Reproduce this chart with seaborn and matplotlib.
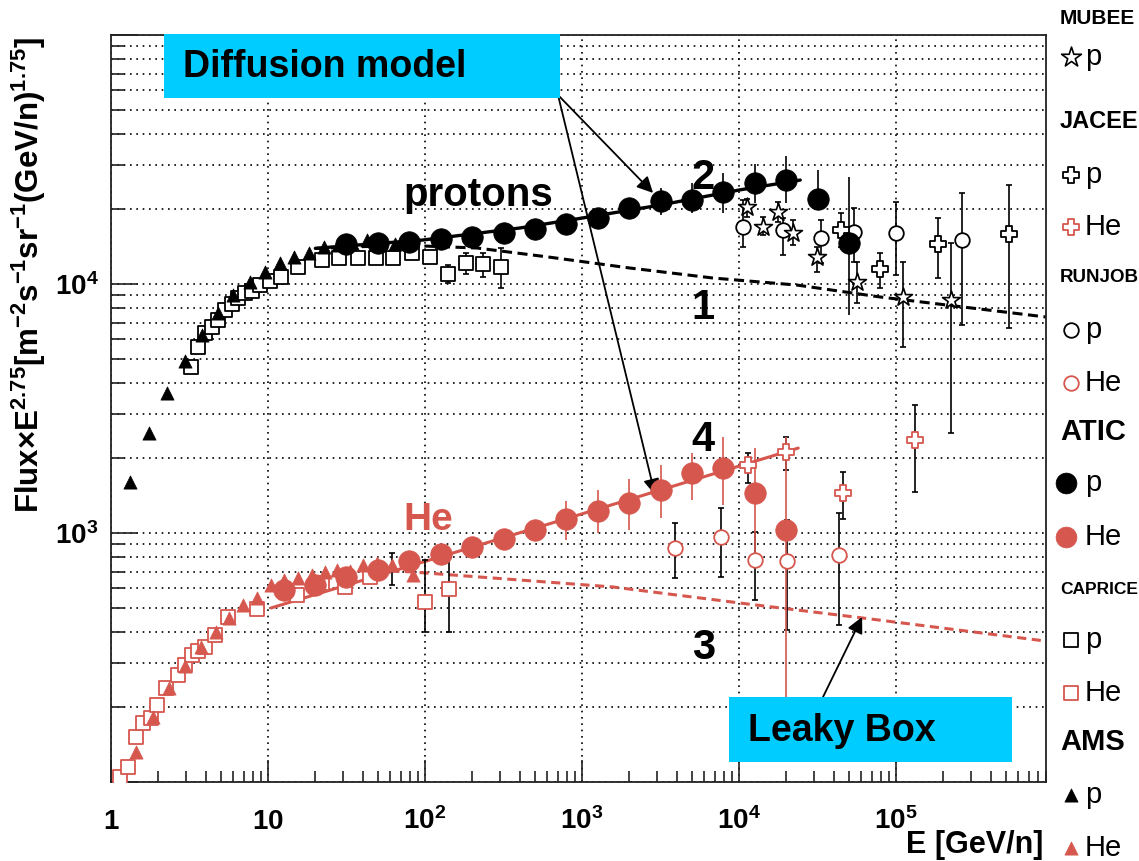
import matplotlib
matplotlib.use("Agg")
import numpy as np
import matplotlib.pyplot as plt
import seaborn as sns
from matplotlib.patches import Rectangle
from matplotlib.ticker import FixedLocator, FixedFormatter, NullFormatter, LogLocator

# ---------------- data (E in GeV/n, Flux x E^2.75) ----------------
ams_p_E = [1.32, 1.75, 2.27, 2.96, 3.80, 4.80, 5.98, 7.68, 9.57, 11.9, 14.6, 18.2, 22.7, 27.9, 34.3, 42.7, 52.5, 64.4]
ams_p_F = [1600, 2520, 3650, 4910, 6240, 7650, 9030, 10190, 11170, 12140, 12840, 13320, 14080, 14350, 14610, 15020, 14750, 14470]

ams_he_E = [1.44, 1.85, 2.34, 2.96, 3.74, 4.66, 5.65, 6.93, 8.51, 10.45, 12.6, 15.5, 19.1, 23.1, 27.5, 33.3, 40.3, 49.5, 61.6, 83.9]
ams_he_F = [132, 182, 239, 292, 348, 400, 456, 514, 548, 618, 648, 660, 678, 697, 710, 704, 744, 758, 744, 678]
ams_he_lo = [132, 182, 239, 292, 348, 400, 456, 514, 548, 618, 648, 660, 678, 697, 710, 704, 744, 758, 618, 678]
ams_he_hi = [132, 182, 239, 292, 348, 400, 456, 514, 548, 618, 648, 660, 678, 697, 710, 704, 744, 758, 831, 678]

caprice_p_E = [3.23, 3.58, 3.97, 4.40, 4.80, 5.32, 5.90, 6.44, 7.14, 7.91, 8.90, 10.3, 12.1, 15.5, 22.1, 28.3, 37.4, 48.7, 62.5, 82.6, 108, 140, 182, 234, 305]
caprice_p_F = [4640, 5590, 6360, 6710, 7160, 7860, 8310, 8790, 9200, 9370, 9910, 10280, 10670, 11700, 12490, 12710, 12710, 12710, 12710, 13320, 12830, 10970, 12140, 12030, 11700]
caprice_p_lo = [4640, 5590, 6360, 6710, 7160, 7860, 8310, 8790, 9200, 9370, 9910, 10280, 10670, 11700, 12490, 12710, 12710, 12710, 12710, 13320, 12830, 10090, 10970, 10670, 9640]
caprice_p_hi = [4640, 5590, 6360, 6710, 7160, 7860, 8310, 8790, 9200, 9370, 9910, 10280, 10670, 11700, 12490, 12710, 12710, 12710, 12710, 13320, 12830, 11920, 13320, 13320, 13950]

caprice_he_E = [1.14, 1.28, 1.44, 1.60, 1.80, 1.96, 2.24, 2.67, 2.96, 3.28, 3.58, 3.97, 4.59, 5.56, 8.51, 15.3, 22.1, 30.9, 44.7, 100, 142]
caprice_he_F = [105, 115, 152, 173, 181, 204, 239, 269, 295, 324, 336, 348, 389, 460, 495, 564, 630, 607, 666, 528, 596]
caprice_he_lo = [105, 115, 152, 173, 181, 204, 239, 269, 295, 324, 336, 348, 389, 460, 495, 564, 630, 607, 666, 400, 400]
caprice_he_hi = [105, 115, 152, 173, 181, 204, 239, 269, 295, 324, 336, 348, 389, 460, 495, 564, 630, 607, 666, 779, 800]

atic_p_E = [31.6, 50.1, 79.4, 126, 200, 316, 501, 794, 1260, 2000, 3160, 5010, 7940, 12600, 20000, 31600, 50100]
atic_p_F = [14470, 14610, 14750, 15230, 15450, 16030, 16630, 17420, 18410, 20200, 21550, 21750, 23400, 25450, 26150, 21950, 14610]
atic_p_lo = [14470, 14610, 14750, 15230, 15450, 16030, 16630, 17420, 18410, 20200, 18930, 19280, 19280, 21130, 21130, 19820, 7510]
atic_p_hi = [14470, 14610, 14750, 15230, 15450, 16030, 16630, 17420, 18410, 20200, 24300, 25440, 27910, 30340, 32680, 28710, 26900]

atic_he_E = [12.6, 20.0, 31.6, 50.1, 79.4, 126, 200, 316, 501, 794, 1260, 2000, 3160, 5010, 7940, 12600, 20000]
atic_he_F = [590, 618, 666, 710, 772, 824, 879, 946, 1028, 1138, 1226, 1320, 1488, 1742, 1824, 1447, 1028]
atic_he_lo = [590, 618, 666, 710, 772, 824, 879, 946, 1028, 937, 1000, 1028, 1149, 1357, 1296, 779, 180]
atic_he_hi = [590, 618, 666, 710, 772, 824, 879, 946, 1028, 1345, 1488, 1648, 1876, 2096, 2429, 2193, 2429]

runjob_p_E = [10600, 19070, 33270, 53950, 100000, 263000]
runjob_p_F = [16940, 16480, 15300, 16170, 16030, 15020]
runjob_p_lo = [14080, 13080, 12140, 12270, 10870, 6840]
runjob_p_hi = [21740, 18400, 18070, 20190, 21350, 23200]

runjob_he_E = [3910, 7680, 12640, 20210, 43330]
runjob_he_F = [871, 964, 779, 772, 816]
runjob_he_lo = [660, 666, 538, 408, 427]
runjob_he_hi = [1097, 1260, 1009, 1128, 1203]

mubee_p_E = [11250, 14220, 17720, 22080, 31390, 56430, 110800, 224000]
mubee_p_F = [20380, 16940, 19460, 16030, 12840, 10190, 8870, 8630]
mubee_p_lo = [18580, 15740, 17740, 14340, 11170, 8390, 5590, 2520]
mubee_p_hi = [21950, 18580, 21350, 18070, 14080, 12260, 12260, 14610]

jacee_p_E = [44640, 79070, 185200, 524500]
jacee_p_F = [16480, 11490, 14470, 15880]
jacee_p_lo = [14080, 9640, 10570, 6660]
jacee_p_hi = [19280, 13320, 18420, 24980]

jacee_he_E = [11400, 19910, 45930, 132100]
jacee_he_F = [1876, 2115, 1447, 2363]
jacee_he_lo = [1588, 1790, 1138, 1461]
jacee_he_hi = [2096, 2429, 1758, 3266]

# model curves
leaky_p_E = [20, 50, 100, 214, 630, 2000, 6800, 23400, 79000, 900000]
leaky_p_F = [13900, 14200, 14200, 13950, 12800, 11600, 10570, 9900, 8870, 7370]
diff_p_E = [20, 25.6, 97, 403, 1000, 3160, 10000, 24500]
diff_p_F = [13900, 14080, 15020, 16790, 18400, 20760, 23850, 26150]
leaky_he_E = [60, 84, 1574, 11250, 60700, 900000]
leaky_he_F = [705, 697, 607, 519, 456, 368]
diff_he_E = [10.45, 500, 23800]
diff_he_F = [500, 1045, 2193]

x_ticks = [1, 10, 100, 1e3, 1e4, 1e5]
x_ticklabels = ['$1$', '$10$', '$10^{2}$', '$10^{3}$', '$10^{4}$', '$10^{5}$']
y_ticks = [1e2, 1e3, 1e4, 1e5]
y_ticklabels = ['', '$10^{3}$', '$10^{4}$', '']

RED = '#d6574e'
BLK = 'black'
CYAN = '#00ccff'

# ---------------- style ----------------
sns.set_theme(style='white')
plt.rcParams['font.family'] = ['Liberation Sans', 'DejaVu Sans']
plt.rcParams['mathtext.fontset'] = 'custom'
plt.rcParams['mathtext.rm'] = 'Liberation Sans:bold'
plt.rcParams['mathtext.it'] = 'Liberation Sans:bold'
plt.rcParams['mathtext.bf'] = 'Liberation Sans:bold'
plt.rcParams['mathtext.sf'] = 'Liberation Sans:bold'
plt.rcParams['axes.edgecolor'] = '#222222'
plt.rcParams['axes.linewidth'] = 1.3

W, H = 1139, 861
fig = plt.figure(figsize=(W / 100, H / 100), dpi=100)
ax = fig.add_axes([111 / W, 1 - 782 / H, 935 / W, 747 / H])
ax.set_xscale('log')
ax.set_yscale('log')
ax.set_xlim(1, 9e5)
ax.set_ylim(100, 1e5)

grid_ls = (0, (1, 2.8))
ax.yaxis.grid(True, which='both', linestyle=grid_ls, color='black', linewidth=1.2)
ax.xaxis.grid(True, which='major', linestyle=grid_ls, color='black', linewidth=1.2)
ax.set_axisbelow(True)

# ---------------- models ----------------
def model(E, F, color, lw, ls):
    sns.lineplot(x=E, y=F, color=color, linewidth=lw, linestyle=ls, ax=ax,
                 sort=False, estimator=None, legend=False, zorder=2)

model(leaky_p_E, leaky_p_F, BLK, 2.2, (0, (3.3, 1.8)))
model(diff_p_E, diff_p_F, BLK, 2.4, '-')
model(leaky_he_E, leaky_he_F, RED, 2.2, (0, (3.0, 1.8)))
model(diff_he_E, diff_he_F, RED, 2.2, '-')

# ---------------- data ----------------
def errs(E, F, lo, hi, color, cap):
    E, F, lo, hi = (np.asarray(a, float) for a in (E, F, lo, hi))
    m = (lo < F) | (hi > F)
    ax.errorbar(E[m], F[m], yerr=[F[m] - lo[m], hi[m] - F[m]], fmt='none',
                ecolor=color, elinewidth=1.2, capsize=cap, capthick=1.2, zorder=3)

def pts(E, F, marker, ms, face, edge, lw, z=4):
    sns.scatterplot(x=E, y=F, marker=marker, s=ms ** 2, color=face, edgecolor=edge,
                    linewidth=lw, ax=ax, zorder=z, legend=False)

errs(caprice_p_E, caprice_p_F, caprice_p_lo, caprice_p_hi, BLK, 2.5)
errs(caprice_he_E, caprice_he_F, caprice_he_lo, caprice_he_hi, BLK, 2.5)
errs(ams_he_E, ams_he_F, ams_he_lo, ams_he_hi, BLK, 2.5)
errs(runjob_p_E, runjob_p_F, runjob_p_lo, runjob_p_hi, BLK, 2.5)
errs(runjob_he_E, runjob_he_F, runjob_he_lo, runjob_he_hi, BLK, 2.5)
errs(mubee_p_E, mubee_p_F, mubee_p_lo, mubee_p_hi, BLK, 2.5)
errs(jacee_p_E, jacee_p_F, jacee_p_lo, jacee_p_hi, BLK, 2.5)
errs(jacee_he_E, jacee_he_F, jacee_he_lo, jacee_he_hi, BLK, 2.5)
errs(atic_p_E, atic_p_F, atic_p_lo, atic_p_hi, BLK, 0)
errs(atic_he_E, atic_he_F, atic_he_lo, atic_he_hi, RED, 0)

pts(caprice_p_E, caprice_p_F, 's', 9.5, 'white', BLK, 1.3)
pts(caprice_he_E, caprice_he_F, 's', 9.5, 'white', RED, 1.3)
pts(ams_p_E, ams_p_F, '^', 9.5, BLK, BLK, 0.5)
pts(ams_he_E, ams_he_F, '^', 9.5, RED, RED, 0.5)
pts(runjob_p_E, runjob_p_F, 'o', 10.5, 'white', BLK, 1.3)
pts(runjob_he_E, runjob_he_F, 'o', 10.5, 'white', RED, 1.3)
pts(mubee_p_E, mubee_p_F, '*', 13.5, 'white', BLK, 1.2)
pts(jacee_p_E, jacee_p_F, 'P', 11, 'white', BLK, 1.3)
pts(jacee_he_E, jacee_he_F, 'P', 11, 'white', RED, 1.3)
pts(atic_p_E, atic_p_F, 'o', 15.5, BLK, BLK, 0.5, z=5)
pts(atic_he_E, atic_he_F, 'o', 15.5, RED, RED, 0.5, z=5)

# ---------------- in-plot labels ----------------
ax.text(218, 22760, 'protons', fontsize=29, fontweight='bold', color=BLK, ha='center', va='center', zorder=6)
ax.text(104.5, 1128, 'He', fontsize=28, fontweight='bold', color=RED, ha='center', va='center', zorder=6)
for lab, yv in (('1', 8010), ('2', 26660), ('3', 345), ('4', 2363)):
    ax.text(5900, yv, lab, fontsize=30, fontweight='bold', color=BLK, ha='center', va='center', zorder=6)

arrow_kw = dict(arrowstyle='-|>', color='black', lw=1.3, mutation_scale=24, shrinkA=0, shrinkB=0)
ax.annotate('', xy=(2831, 23210), xycoords='data', xytext=(558 / W, 1 - 95 / H),
            textcoords='figure fraction', arrowprops=arrow_kw, annotation_clip=False)
ax.annotate('', xy=(2917, 1421), xycoords='data', xytext=(558 / W, 1 - 95 / H),
            textcoords='figure fraction', arrowprops=arrow_kw, annotation_clip=False)
ax.annotate('', xy=(60700, 460), xycoords='data', xytext=(823 / W, 1 - 697 / H),
            textcoords='figure fraction', arrowprops=arrow_kw, annotation_clip=False)

# ---------------- axes formatting ----------------
ax.xaxis.set_major_locator(FixedLocator(x_ticks))
ax.xaxis.set_major_formatter(FixedFormatter(x_ticklabels))
ax.xaxis.set_minor_locator(LogLocator(base=10, subs=np.arange(2, 10), numticks=30))
ax.xaxis.set_minor_formatter(NullFormatter())
ax.yaxis.set_major_locator(FixedLocator(y_ticks))
ax.yaxis.set_major_formatter(FixedFormatter(y_ticklabels))
ax.yaxis.set_minor_locator(LogLocator(base=10, subs=np.arange(2, 10), numticks=30))
ax.yaxis.set_minor_formatter(NullFormatter())

tick_col = '#222222'
ax.tick_params(axis='x', which='major', direction='in', length=15.5, width=1.2, labelsize=20,
               pad=34, bottom=True, top=False, color=tick_col, labelcolor='black')
ax.tick_params(axis='x', which='minor', direction='in', length=8, width=1.2,
               bottom=True, top=False, color=tick_col)
ax.tick_params(axis='y', which='major', direction='in', length=19.5, width=1.2, labelsize=20,
               pad=9, left=True, right=False, color=tick_col, labelcolor='black')
ax.tick_params(axis='y', which='minor', direction='in', length=10, width=1.2,
               left=True, right=False, color=tick_col)
plt.setp(ax.get_xticklabels(), va='baseline')

ax.set_ylabel('Flux×E$^{2.75}$[m$^{-2}$s$^{-1}$sr$^{-1}$(GeV/n)$^{1.75}$]',
              fontsize=22.5, fontweight='bold', color='black', va='center')
ax.yaxis.set_label_coords(-0.088, 0.679)
ax.set_xlabel('E [GeV/n]', fontsize=22, fontweight='bold', color='black', ha='right', va='center')
ax.xaxis.set_label_coords(0.997, -0.0843)

# ---------------- overlay: boxes and legend ----------------
ov = fig.add_axes([0, 0, 1, 1], zorder=10)
ov.set_xlim(0, W)
ov.set_ylim(H, 0)
ov.axis('off')
ov.patch.set_visible(False)

ov.add_patch(Rectangle((164, 34), 396, 64, facecolor=CYAN, edgecolor='none'))
ov.text(183, 67, 'Diffusion model', fontsize=27, fontweight='bold', color='black', va='center', ha='left')
ov.add_patch(Rectangle((729, 697), 283, 65, facecolor=CYAN, edgecolor='none'))
ov.text(748, 731, 'Leaky Box', fontsize=27, fontweight='bold', color='black', va='center', ha='left')

legend_rows = [
    ('head', 'MUBEE', 18, 15),
    ('mark', 'p', 57, ('*', 15, 'white', BLK, 1.2)),
    ('head', 'JACEE', 122, 17),
    ('mark', 'p', 175, ('P', 11.5, 'white', BLK, 1.3)),
    ('mark', 'He', 227, ('P', 11.5, 'white', RED, 1.3)),
    ('head', 'RUNJOB', 278, 13.5),
    ('mark', 'p', 330, ('o', 10.5, 'white', BLK, 1.3)),
    ('mark', 'He', 383, ('o', 10.5, 'white', RED, 1.3)),
    ('head', 'ATIC', 432, 21),
    ('mark', 'p', 483, ('o', 15, BLK, BLK, 0.5)),
    ('mark', 'He', 537, ('o', 15, RED, RED, 0.5)),
    ('head', 'CAPRICE', 590, 12.5),
    ('mark', 'p', 640, ('s', 10, 'white', BLK, 1.3)),
    ('mark', 'He', 693, ('s', 10, 'white', RED, 1.3)),
    ('head', 'AMS', 742, 21),
    ('mark', 'p', 795, ('^', 9.5, BLK, BLK, 0.5)),
    ('mark', 'He', 848, ('^', 9.5, RED, RED, 0.5)),
]
for kind, label, yy, spec in legend_rows:
    if kind == 'head':
        ov.text(1060, yy, label, fontsize=spec, fontweight='bold', color='black', ha='left', va='center')
    else:
        mk, ms, fc, ec, lw = spec
        xm = 1066 if (mk == 'o' and ms > 12) else 1071
        ov.scatter([xm], [yy], marker=mk, s=ms ** 2, facecolor=fc, edgecolor=ec, linewidth=lw)
        ov.text(1085, yy, label, fontsize=21, color='black', ha='left', va='center')

fig.savefig('out.png', dpi=100)
